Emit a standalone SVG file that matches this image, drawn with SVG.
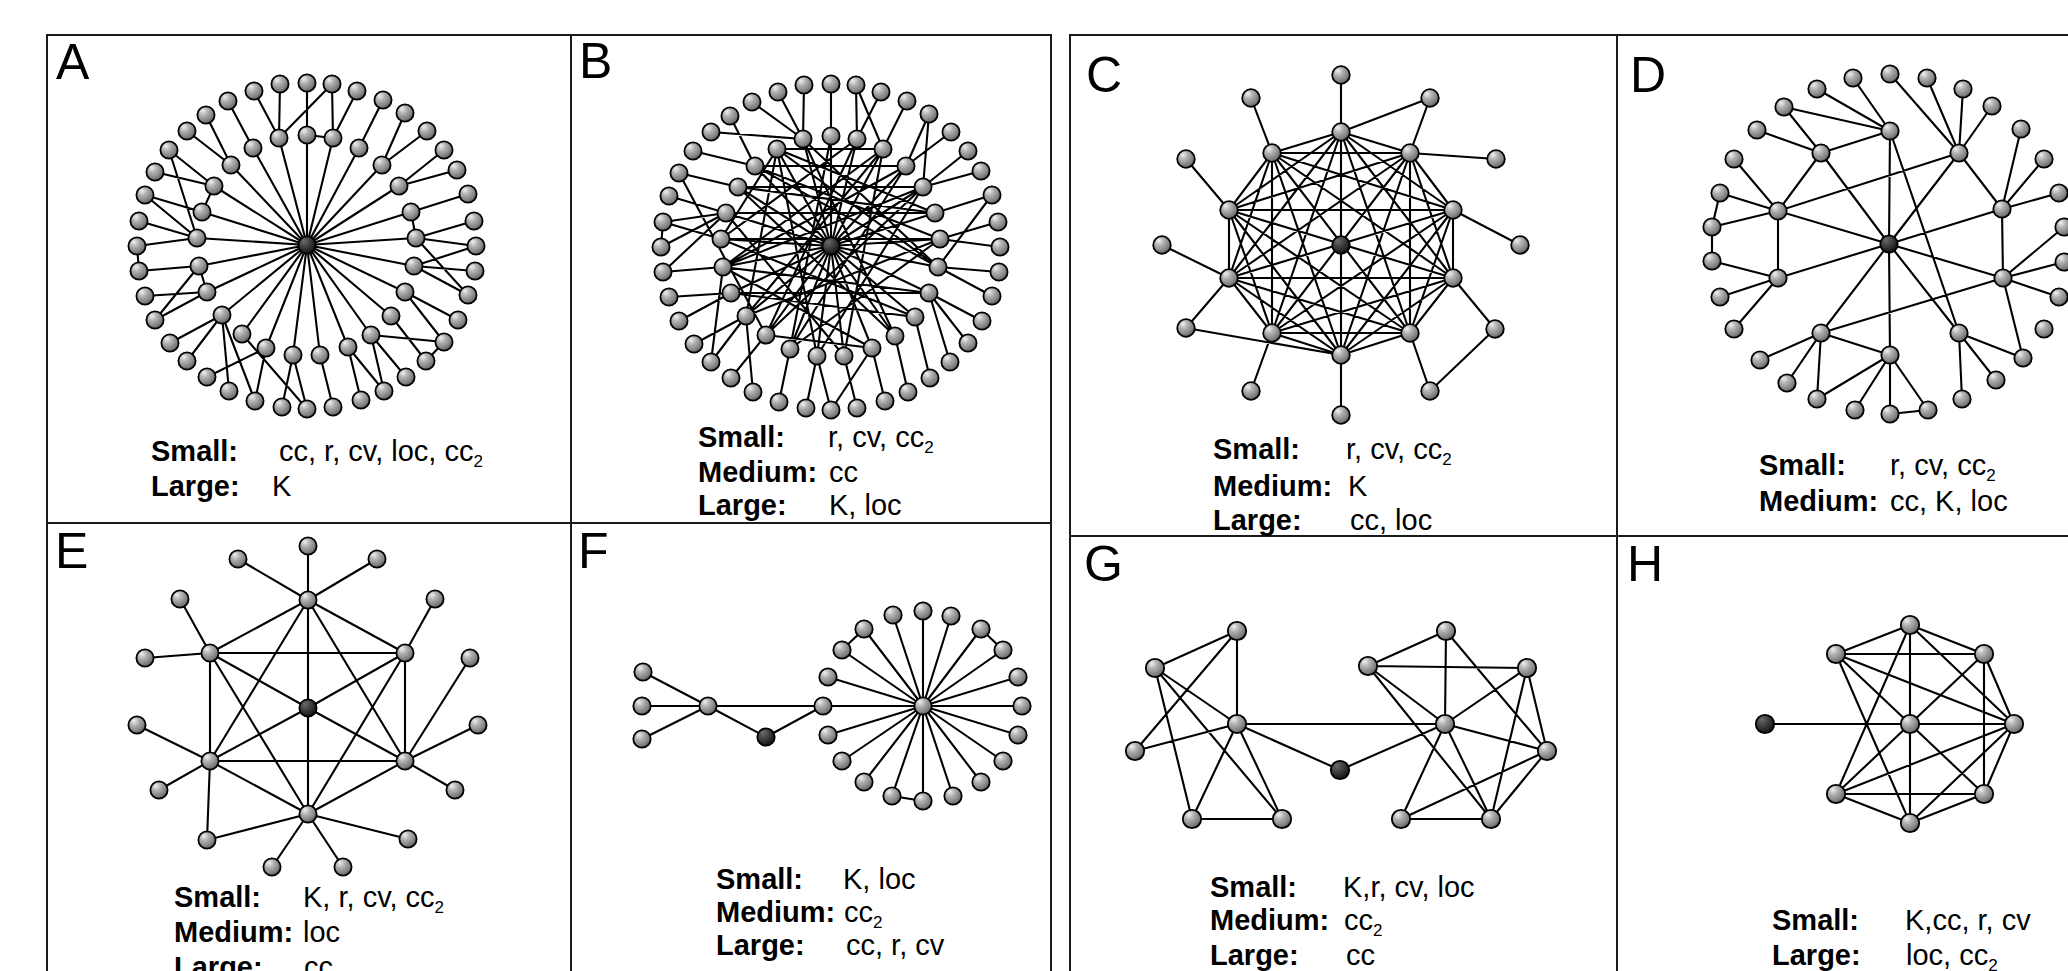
<svg xmlns="http://www.w3.org/2000/svg" width="2068" height="971" viewBox="0 0 2068 971">
<defs>
<radialGradient id="gr" cx="0.36" cy="0.3" r="0.75" fx="0.32" fy="0.26">
<stop offset="0" stop-color="#f0f0f0"/><stop offset="0.35" stop-color="#b2b2b2"/><stop offset="0.8" stop-color="#7c7c7c"/><stop offset="1" stop-color="#4e4e4e"/>
</radialGradient>
<radialGradient id="gd" cx="0.36" cy="0.3" r="0.75" fx="0.32" fy="0.26">
<stop offset="0" stop-color="#6a6a6a"/><stop offset="1" stop-color="#0e0e0e"/>
</radialGradient>
<style>
.e{fill:none;stroke:#000;stroke-width:2.1;stroke-linecap:round}
.bx{fill:none;stroke:#1a1a1a;stroke-width:2}
.nd circle{fill:url(#gr);stroke:#000;stroke-width:1.8}
.nd .dk circle{fill:url(#gd)}
.pl{font-family:"Liberation Sans",Arial,sans-serif;font-size:50px;fill:#000}
.lb{font-family:"Liberation Sans",Arial,sans-serif;font-size:29px;font-weight:bold;fill:#000}
.v{font-family:"Liberation Sans",Arial,sans-serif;font-size:29px;fill:#000}
.sub{font-size:17px}
</style>
</defs>
<rect width="2068" height="971" fill="#fff"/>
<g id="frames" class="bx">
<path d="M47 980V35H1051V980M571 35V980M47 523H1051"/>
<path d="M1070 980V35H2075M1617 35V980M1070 536H2075"/>
</g>
<g id="connectors" class="e">
<path id="edges-A" d="M307 245L307 135M307 245L279 138M307 245L333 138M307 245L253 148M307 245L359 148M307 245L231 165M307 245L382 165M307 245L214 186M307 245L399 186M307 245L202 212M307 245L411 212M307 245L197 238M307 245L416 238M307 245L199 266M307 245L414 266M307 245L207 292M307 245L405 292M307 245L222 315M307 245L391 316M307 245L242 334M307 245L371 335M307 245L266 348M307 245L348 347M307 245L293 355M307 245L320 355
M307 83L307 135M332 84L333 138M332 84L279 138M280 84L279 138M254 91L279 138M357 91L333 138M307 135L333 138M228 101L253 148M383 100L359 148M206 115L231 165M187 131L231 165M405 113L382 165M427 131L382 165M169 150L214 186M169 150L197 238M155 172L214 186M444 150L399 186M457 170L399 186M145 195L202 212M145 195L197 238M214 186L202 212M139 221L197 238M137 246L197 238M137 246L139 271M139 271L199 266M468 194L411 212M474 221L416 238M411 212L416 238M476 246L416 238M476 246L414 266M475 271L414 266M416 238L468 295M414 266L468 295M199 266L207 292M199 266L155 320M145 296L207 292M155 320L207 292M170 343L222 315M187 361L222 315M207 377L266 348M229 391L222 315M255 401L222 315M255 401L266 348M242 334L307 409M293 355L282 407M293 355L307 409M320 355L333 407M348 347L361 400M348 347L384 391M371 335L384 391M371 335L444 342M371 335L406 377M391 316L426 361M405 292L458 320M405 292L444 342M444 342L426 361"/>
<path id="edges-B" d="M831 246L831 136M831 246L803 139M831 246L857 139M831 246L777 149M831 246L883 149M831 246L755 166M831 246L906 166M831 246L738 187M831 246L923 187M831 246L726 213M831 246L935 213M831 246L721 239M831 246L940 239M831 246L723 267M831 246L938 267M831 246L731 293M831 246L929 293M831 246L746 316M831 246L915 317M831 246L766 335M831 246L895 336M831 246L790 349M831 246L872 348M831 246L817 356M831 246L844 356
M831 84L831 136M856 85L857 139M856 85L883 149M804 85L803 139M881 92L857 139M778 92L803 139M752 102L803 139M907 101L883 149M929 114L906 166M929 114L923 187M951 132L906 166M730 116L755 166M711 132L803 139M693 151L755 166M679 173L738 187M679 173L766 335M968 151L923 187M981 171L923 187M669 196L726 213M992 195L935 213M992 195L938 267M663 222L726 213M663 222L721 239M663 222L661 247M661 247L726 213M663 272L723 267M663 272L726 213M998 222L940 239M1000 247L940 239M999 272L938 267M669 297L731 293M679 321L731 293M694 344L746 316M711 362L723 267M711 362L746 316M731 378L766 335M753 392L746 316M779 402L790 349M806 408L817 356M831 410L817 356M831 410L872 348M857 408L844 356M885 401L872 348M908 392L895 336M930 378L915 317M950 362L929 293M968 343L929 293M982 321L929 293M992 296L938 267
M731 293L929 293M777 149L746 316M777 149L817 356M777 149L721 239M777 149L935 213M777 149L938 267M777 149L883 149M755 166L940 239M755 166L906 166M738 187L923 187M738 187L895 336M726 213L935 213M726 213L844 356M721 239L940 239M721 239L915 317M723 267L923 187M723 267L872 348M766 335L872 348M766 335L923 187M790 349L906 166M790 349L940 239M803 139L938 267M803 139L895 336M857 139L721 239M857 139L766 335M883 149L723 267M883 149L746 316M906 166L723 267M831 136L790 349M923 187L817 356M935 213L738 187M940 239L746 316M938 267L755 166M929 293L723 267M915 317L731 293M844 356L883 149"/>
<path id="edges-C" d="M1341 132L1410 153M1341 132L1453 210M1341 132L1453 278M1341 132L1410 333M1341 132L1341 355M1341 132L1272 333M1341 132L1229 278M1341 132L1229 210M1341 132L1272 153M1410 153L1453 210M1410 153L1453 278M1410 153L1410 333M1410 153L1341 355M1410 153L1272 333M1410 153L1229 278M1410 153L1229 210M1410 153L1272 153M1453 210L1453 278M1453 210L1410 333M1453 210L1341 355M1453 210L1272 333M1453 210L1229 278M1453 210L1229 210M1453 210L1272 153M1453 278L1410 333M1453 278L1341 355M1453 278L1272 333M1453 278L1229 278M1453 278L1229 210M1453 278L1272 153M1410 333L1341 355M1410 333L1272 333M1410 333L1229 278M1410 333L1229 210M1410 333L1272 153M1341 355L1272 333M1341 355L1229 278M1341 355L1229 210M1341 355L1272 153M1272 333L1229 278M1272 333L1229 210M1272 333L1272 153M1229 278L1229 210M1229 278L1272 153M1229 210L1272 153
M1341 75L1341 132M1341 132L1430 98M1251 98L1272 153M1430 98L1410 153M1186 159L1229 210M1496 159L1410 153M1520 245L1453 210M1162 245L1229 278M1186 328L1229 278M1186 328L1341 355M1495 329L1453 278M1495 329L1430 391M1251 391L1272 333M1430 391L1410 333M1341 415L1341 355"/>
<path id="edges-D" d="M1889 244L1890 131M1889 244L1821 153M1889 244L1959 153M1889 244L1778 211M1889 244L2002 209M1889 244L1778 278M1889 244L2003 278M1889 244L1821 333M1889 244L1959 333M1889 244L1890 355
M1890 131L1959 333M1890 131L1853 78M1890 131L1817 89M1890 131L1784 107M1890 131L1821 153M1821 153L1784 107M1821 153L1757 130M1821 153L1778 211M1959 153L1890 74M1959 153L1927 78M1959 153L1963 89M1959 153L1992 106M1959 153L1778 211M1959 153L2002 209M2002 209L2021 129M2002 209L2044 159M2002 209L2059 193M2002 209L2003 278M2003 278L2064 227M2003 278L2064 262M2003 278L2059 297M2003 278L2023 358M2003 278L1821 333M1778 211L1734 159M1778 211L1720 193M1778 211L1712 227M1778 211L1778 278M1720 193L1712 227M1712 227L1712 261M1778 278L1712 261M1778 278L1720 297M1778 278L1734 329M1821 333L1760 360M1821 333L1787 383M1821 333L1817 399M1821 333L1890 355M1890 355L1817 399M1890 355L1855 410M1890 355L1890 414M1890 355L1928 410M1890 414L1928 410M1959 333L2023 358M1959 333L1996 380M1959 333L1962 399"/>
<path id="edges-E" d="M308 708L308 600M308 708L210 653M308 708L405 653M308 708L210 761M308 708L405 761M308 708L308 814M308 600L210 653M308 600L405 653M308 600L210 761M308 600L405 761M210 653L405 653M210 653L210 761M210 653L308 814M405 653L405 761M405 653L308 814M210 761L405 761M210 761L308 814M405 761L308 814
M308 546L308 600M238 559L308 600M377 559L308 600M180 599L210 653M435 599L405 653M145 658L210 653M470 658L405 761M137 725L210 761M478 725L405 761M159 790L210 761M455 790L405 761M207 840L210 761M207 840L308 814M408 839L308 814M272 867L308 814M343 867L308 814"/>
<path id="edges-F" d="M643 672L708 706M642 706L708 706M642 739L708 706M708 706L823 706M708 706L766 737M766 737L823 706M823 706L923 706
M923 706L923 611M923 706L893 615M923 706L951 616M923 706L864 629M923 706L981 629M923 706L842 650M923 706L1003 650M923 706L828 677M923 706L1018 677M923 706L1022 706M923 706L828 735M923 706L1018 735M923 706L842 761M923 706L1003 761M923 706L864 782M923 706L981 782M923 706L892 796M923 706L923 801M923 706L953 796M864 629L842 650M981 629L1003 650M892 796L923 801"/>
<path id="edges-G" d="M1237 631L1155 668M1237 631L1237 724M1237 631L1135 751M1155 668L1237 724M1155 668L1192 819M1155 668L1282 819M1237 724L1135 751M1237 724L1192 819M1237 724L1282 819M1192 819L1282 819M1237 724L1445 724M1237 724L1340 770M1340 770L1445 724
M1446 631L1368 666M1446 631L1445 724M1446 631L1547 751M1368 666L1527 668M1368 666L1445 724M1368 666L1491 819M1527 668L1445 724M1527 668L1547 751M1527 668L1491 819M1445 724L1547 751M1445 724L1401 819M1445 724L1491 819M1547 751L1401 819M1547 751L1491 819M1401 819L1491 819"/>
<path id="edges-H" d="M1765 724L1910 724M1910 625L1836 654M1910 625L1984 654M1910 625L1910 724M1910 625L1836 794M1910 625L2014 724M1910 823L1836 794M1910 823L1984 794M1910 823L1910 724M1910 823L1836 654M1910 823L2014 724M1836 654L1984 654M1836 654L1910 724M1836 654L2014 724M1836 654L1984 794M1984 654L2014 724M1984 654L1984 794M1984 654L1910 724M1984 654L1836 794M2014 724L1910 724M2014 724L1984 794M2014 724L1836 794M1836 794L1984 794M1836 794L1910 724M1984 794L1910 724"/>
</g>
<g id="nodes-A" class="nd">
<g id="A-c" class="dk"><circle cx="307" cy="245" r="8.6"/></g>
<g id="A-o1"><circle cx="307" cy="83" r="8.6"/></g><g id="A-o2"><circle cx="332" cy="84" r="8.6"/></g><g id="A-o3"><circle cx="280" cy="84" r="8.6"/></g><g id="A-o4"><circle cx="357" cy="91" r="8.6"/></g><g id="A-o5"><circle cx="254" cy="91" r="8.6"/></g><g id="A-o6"><circle cx="383" cy="100" r="8.6"/></g><g id="A-o7"><circle cx="228" cy="101" r="8.6"/></g><g id="A-o8"><circle cx="405" cy="113" r="8.6"/></g><g id="A-o9"><circle cx="206" cy="115" r="8.6"/></g><g id="A-o10"><circle cx="427" cy="131" r="8.6"/></g>
<g id="A-o11"><circle cx="187" cy="131" r="8.6"/></g><g id="A-o12"><circle cx="444" cy="150" r="8.6"/></g><g id="A-o13"><circle cx="169" cy="150" r="8.6"/></g><g id="A-o14"><circle cx="457" cy="170" r="8.6"/></g><g id="A-o15"><circle cx="155" cy="172" r="8.6"/></g><g id="A-o16"><circle cx="468" cy="194" r="8.6"/></g><g id="A-o17"><circle cx="145" cy="195" r="8.6"/></g><g id="A-o18"><circle cx="474" cy="221" r="8.6"/></g><g id="A-o19"><circle cx="139" cy="221" r="8.6"/></g><g id="A-o20"><circle cx="476" cy="246" r="8.6"/></g>
<g id="A-o21"><circle cx="137" cy="246" r="8.6"/></g><g id="A-o22"><circle cx="475" cy="271" r="8.6"/></g><g id="A-o23"><circle cx="139" cy="271" r="8.6"/></g><g id="A-o24"><circle cx="145" cy="296" r="8.6"/></g><g id="A-o25"><circle cx="468" cy="295" r="8.6"/></g><g id="A-o26"><circle cx="155" cy="320" r="8.6"/></g><g id="A-o27"><circle cx="458" cy="320" r="8.6"/></g><g id="A-o28"><circle cx="170" cy="343" r="8.6"/></g><g id="A-o29"><circle cx="444" cy="342" r="8.6"/></g><g id="A-o30"><circle cx="187" cy="361" r="8.6"/></g>
<g id="A-o31"><circle cx="426" cy="361" r="8.6"/></g><g id="A-o32"><circle cx="207" cy="377" r="8.6"/></g><g id="A-o33"><circle cx="406" cy="377" r="8.6"/></g><g id="A-o34"><circle cx="229" cy="391" r="8.6"/></g><g id="A-o35"><circle cx="384" cy="391" r="8.6"/></g><g id="A-o36"><circle cx="255" cy="401" r="8.6"/></g><g id="A-o37"><circle cx="361" cy="400" r="8.6"/></g><g id="A-o38"><circle cx="282" cy="407" r="8.6"/></g><g id="A-o39"><circle cx="307" cy="409" r="8.6"/></g><g id="A-o40"><circle cx="333" cy="407" r="8.6"/></g>
<g id="A-i1"><circle cx="307" cy="135" r="8.6"/></g><g id="A-i2"><circle cx="279" cy="138" r="8.6"/></g><g id="A-i3"><circle cx="333" cy="138" r="8.6"/></g><g id="A-i4"><circle cx="253" cy="148" r="8.6"/></g><g id="A-i5"><circle cx="359" cy="148" r="8.6"/></g><g id="A-i6"><circle cx="231" cy="165" r="8.6"/></g><g id="A-i7"><circle cx="382" cy="165" r="8.6"/></g><g id="A-i8"><circle cx="214" cy="186" r="8.6"/></g><g id="A-i9"><circle cx="399" cy="186" r="8.6"/></g><g id="A-i10"><circle cx="202" cy="212" r="8.6"/></g>
<g id="A-i11"><circle cx="411" cy="212" r="8.6"/></g><g id="A-i12"><circle cx="197" cy="238" r="8.6"/></g><g id="A-i13"><circle cx="416" cy="238" r="8.6"/></g><g id="A-i14"><circle cx="199" cy="266" r="8.6"/></g><g id="A-i15"><circle cx="414" cy="266" r="8.6"/></g><g id="A-i16"><circle cx="207" cy="292" r="8.6"/></g><g id="A-i17"><circle cx="405" cy="292" r="8.6"/></g><g id="A-i18"><circle cx="222" cy="315" r="8.6"/></g><g id="A-i19"><circle cx="391" cy="316" r="8.6"/></g><g id="A-i20"><circle cx="242" cy="334" r="8.6"/></g>
<g id="A-i21"><circle cx="371" cy="335" r="8.6"/></g><g id="A-i22"><circle cx="266" cy="348" r="8.6"/></g><g id="A-i23"><circle cx="348" cy="347" r="8.6"/></g><g id="A-i24"><circle cx="293" cy="355" r="8.6"/></g><g id="A-i25"><circle cx="320" cy="355" r="8.6"/></g>
</g>
<g id="nodes-B" class="nd">
<g id="B-c" class="dk"><circle cx="831" cy="246" r="8.6"/></g>
<g id="B-o1"><circle cx="831" cy="84" r="8.6"/></g><g id="B-o2"><circle cx="856" cy="85" r="8.6"/></g><g id="B-o3"><circle cx="804" cy="85" r="8.6"/></g><g id="B-o4"><circle cx="881" cy="92" r="8.6"/></g><g id="B-o5"><circle cx="778" cy="92" r="8.6"/></g><g id="B-o6"><circle cx="907" cy="101" r="8.6"/></g><g id="B-o7"><circle cx="752" cy="102" r="8.6"/></g><g id="B-o8"><circle cx="929" cy="114" r="8.6"/></g><g id="B-o9"><circle cx="730" cy="116" r="8.6"/></g><g id="B-o10"><circle cx="951" cy="132" r="8.6"/></g>
<g id="B-o11"><circle cx="711" cy="132" r="8.6"/></g><g id="B-o12"><circle cx="968" cy="151" r="8.6"/></g><g id="B-o13"><circle cx="693" cy="151" r="8.6"/></g><g id="B-o14"><circle cx="981" cy="171" r="8.6"/></g><g id="B-o15"><circle cx="679" cy="173" r="8.6"/></g><g id="B-o16"><circle cx="992" cy="195" r="8.6"/></g><g id="B-o17"><circle cx="669" cy="196" r="8.6"/></g><g id="B-o18"><circle cx="998" cy="222" r="8.6"/></g><g id="B-o19"><circle cx="663" cy="222" r="8.6"/></g><g id="B-o20"><circle cx="1000" cy="247" r="8.6"/></g>
<g id="B-o21"><circle cx="661" cy="247" r="8.6"/></g><g id="B-o22"><circle cx="999" cy="272" r="8.6"/></g><g id="B-o23"><circle cx="663" cy="272" r="8.6"/></g><g id="B-o24"><circle cx="669" cy="297" r="8.6"/></g><g id="B-o25"><circle cx="992" cy="296" r="8.6"/></g><g id="B-o26"><circle cx="679" cy="321" r="8.6"/></g><g id="B-o27"><circle cx="982" cy="321" r="8.6"/></g><g id="B-o28"><circle cx="694" cy="344" r="8.6"/></g><g id="B-o29"><circle cx="968" cy="343" r="8.6"/></g><g id="B-o30"><circle cx="711" cy="362" r="8.6"/></g>
<g id="B-o31"><circle cx="950" cy="362" r="8.6"/></g><g id="B-o32"><circle cx="731" cy="378" r="8.6"/></g><g id="B-o33"><circle cx="930" cy="378" r="8.6"/></g><g id="B-o34"><circle cx="753" cy="392" r="8.6"/></g><g id="B-o35"><circle cx="908" cy="392" r="8.6"/></g><g id="B-o36"><circle cx="779" cy="402" r="8.6"/></g><g id="B-o37"><circle cx="885" cy="401" r="8.6"/></g><g id="B-o38"><circle cx="806" cy="408" r="8.6"/></g><g id="B-o39"><circle cx="831" cy="410" r="8.6"/></g><g id="B-o40"><circle cx="857" cy="408" r="8.6"/></g>
<g id="B-i1"><circle cx="831" cy="136" r="8.6"/></g><g id="B-i2"><circle cx="803" cy="139" r="8.6"/></g><g id="B-i3"><circle cx="857" cy="139" r="8.6"/></g><g id="B-i4"><circle cx="777" cy="149" r="8.6"/></g><g id="B-i5"><circle cx="883" cy="149" r="8.6"/></g><g id="B-i6"><circle cx="755" cy="166" r="8.6"/></g><g id="B-i7"><circle cx="906" cy="166" r="8.6"/></g><g id="B-i8"><circle cx="738" cy="187" r="8.6"/></g><g id="B-i9"><circle cx="923" cy="187" r="8.6"/></g><g id="B-i10"><circle cx="726" cy="213" r="8.6"/></g>
<g id="B-i11"><circle cx="935" cy="213" r="8.6"/></g><g id="B-i12"><circle cx="721" cy="239" r="8.6"/></g><g id="B-i13"><circle cx="940" cy="239" r="8.6"/></g><g id="B-i14"><circle cx="723" cy="267" r="8.6"/></g><g id="B-i15"><circle cx="938" cy="267" r="8.6"/></g><g id="B-i16"><circle cx="731" cy="293" r="8.6"/></g><g id="B-i17"><circle cx="929" cy="293" r="8.6"/></g><g id="B-i18"><circle cx="746" cy="316" r="8.6"/></g><g id="B-i19"><circle cx="915" cy="317" r="8.6"/></g><g id="B-i20"><circle cx="766" cy="335" r="8.6"/></g>
<g id="B-i21"><circle cx="895" cy="336" r="8.6"/></g><g id="B-i22"><circle cx="790" cy="349" r="8.6"/></g><g id="B-i23"><circle cx="872" cy="348" r="8.6"/></g><g id="B-i24"><circle cx="817" cy="356" r="8.6"/></g><g id="B-i25"><circle cx="844" cy="356" r="8.6"/></g>
</g>
<g id="nodes-C" class="nd">
<g id="C-c" class="dk"><circle cx="1341" cy="245" r="8.8"/></g>
<g id="C-r0"><circle cx="1341" cy="132" r="8.8"/></g><g id="C-r1"><circle cx="1410" cy="153" r="8.8"/></g><g id="C-r2"><circle cx="1453" cy="210" r="8.8"/></g><g id="C-r3"><circle cx="1453" cy="278" r="8.8"/></g><g id="C-r4"><circle cx="1410" cy="333" r="8.8"/></g><g id="C-r5"><circle cx="1341" cy="355" r="8.8"/></g><g id="C-r6"><circle cx="1272" cy="333" r="8.8"/></g><g id="C-r7"><circle cx="1229" cy="278" r="8.8"/></g><g id="C-r8"><circle cx="1229" cy="210" r="8.8"/></g><g id="C-r9"><circle cx="1272" cy="153" r="8.8"/></g>
<g id="C-l1"><circle cx="1341" cy="75" r="8.8"/></g><g id="C-l2"><circle cx="1251" cy="98" r="8.8"/></g><g id="C-l3"><circle cx="1430" cy="98" r="8.8"/></g><g id="C-l4"><circle cx="1186" cy="159" r="8.8"/></g><g id="C-l5"><circle cx="1496" cy="159" r="8.8"/></g><g id="C-l6"><circle cx="1162" cy="245" r="8.8"/></g><g id="C-l7"><circle cx="1520" cy="245" r="8.8"/></g><g id="C-l8"><circle cx="1186" cy="328" r="8.8"/></g><g id="C-l9"><circle cx="1495" cy="329" r="8.8"/></g><g id="C-l10"><circle cx="1251" cy="391" r="8.8"/></g><g id="C-l11"><circle cx="1430" cy="391" r="8.8"/></g><g id="C-l12"><circle cx="1341" cy="415" r="8.8"/></g>
</g>
<g id="nodes-D" class="nd">
<g id="D-c" class="dk"><circle cx="1889" cy="244" r="8.7"/></g>
<g id="D-h1"><circle cx="1890" cy="131" r="8.7"/></g><g id="D-h2"><circle cx="1821" cy="153" r="8.7"/></g><g id="D-h3"><circle cx="1959" cy="153" r="8.7"/></g><g id="D-h4"><circle cx="1778" cy="211" r="8.7"/></g><g id="D-h5"><circle cx="2002" cy="209" r="8.7"/></g><g id="D-h6"><circle cx="1778" cy="278" r="8.7"/></g><g id="D-h7"><circle cx="2003" cy="278" r="8.7"/></g><g id="D-h8"><circle cx="1821" cy="333" r="8.7"/></g><g id="D-h9"><circle cx="1959" cy="333" r="8.7"/></g><g id="D-h10"><circle cx="1890" cy="355" r="8.7"/></g>
<g id="D-d1"><circle cx="1853" cy="78" r="8.7"/></g><g id="D-d2"><circle cx="1890" cy="74" r="8.7"/></g><g id="D-d3"><circle cx="1927" cy="78" r="8.7"/></g><g id="D-d4"><circle cx="1817" cy="89" r="8.7"/></g><g id="D-d5"><circle cx="1963" cy="89" r="8.7"/></g><g id="D-d6"><circle cx="1784" cy="107" r="8.7"/></g><g id="D-d7"><circle cx="1992" cy="106" r="8.7"/></g><g id="D-d8"><circle cx="1757" cy="130" r="8.7"/></g><g id="D-d9"><circle cx="2021" cy="129" r="8.7"/></g><g id="D-d10"><circle cx="1734" cy="159" r="8.7"/></g>
<g id="D-d11"><circle cx="2044" cy="159" r="8.7"/></g><g id="D-d12"><circle cx="1720" cy="193" r="8.7"/></g><g id="D-d13"><circle cx="2059" cy="193" r="8.7"/></g><g id="D-d14"><circle cx="1712" cy="227" r="8.7"/></g><g id="D-d15"><circle cx="2064" cy="227" r="8.7"/></g><g id="D-d16"><circle cx="1712" cy="261" r="8.7"/></g><g id="D-d17"><circle cx="2064" cy="262" r="8.7"/></g><g id="D-d18"><circle cx="1720" cy="297" r="8.7"/></g><g id="D-d19"><circle cx="2059" cy="297" r="8.7"/></g><g id="D-d20"><circle cx="1734" cy="329" r="8.7"/></g>
<g id="D-d21"><circle cx="2044" cy="329" r="8.7"/></g><g id="D-d22"><circle cx="1760" cy="360" r="8.7"/></g><g id="D-d23"><circle cx="2023" cy="358" r="8.7"/></g><g id="D-d24"><circle cx="1787" cy="383" r="8.7"/></g><g id="D-d25"><circle cx="1996" cy="380" r="8.7"/></g><g id="D-d26"><circle cx="1817" cy="399" r="8.7"/></g><g id="D-d27"><circle cx="1962" cy="399" r="8.7"/></g><g id="D-d28"><circle cx="1855" cy="410" r="8.7"/></g><g id="D-d29"><circle cx="1890" cy="414" r="8.7"/></g><g id="D-d30"><circle cx="1928" cy="410" r="8.7"/></g>
</g>
<g id="nodes-E" class="nd">
<g id="E-c" class="dk"><circle cx="308" cy="708" r="8.6"/></g>
<g id="E-h1"><circle cx="308" cy="600" r="8.6"/></g><g id="E-h2"><circle cx="210" cy="653" r="8.6"/></g><g id="E-h3"><circle cx="405" cy="653" r="8.6"/></g><g id="E-h4"><circle cx="210" cy="761" r="8.6"/></g><g id="E-h5"><circle cx="405" cy="761" r="8.6"/></g><g id="E-h6"><circle cx="308" cy="814" r="8.6"/></g>
<g id="E-l1"><circle cx="308" cy="546" r="8.6"/></g><g id="E-l2"><circle cx="238" cy="559" r="8.6"/></g><g id="E-l3"><circle cx="377" cy="559" r="8.6"/></g><g id="E-l4"><circle cx="180" cy="599" r="8.6"/></g><g id="E-l5"><circle cx="435" cy="599" r="8.6"/></g><g id="E-l6"><circle cx="145" cy="658" r="8.6"/></g><g id="E-l7"><circle cx="470" cy="658" r="8.6"/></g><g id="E-l8"><circle cx="137" cy="725" r="8.6"/></g><g id="E-l9"><circle cx="478" cy="725" r="8.6"/></g><g id="E-l10"><circle cx="159" cy="790" r="8.6"/></g><g id="E-l11"><circle cx="455" cy="790" r="8.6"/></g><g id="E-l12"><circle cx="207" cy="840" r="8.6"/></g><g id="E-l13"><circle cx="408" cy="839" r="8.6"/></g><g id="E-l14"><circle cx="272" cy="867" r="8.6"/></g><g id="E-l15"><circle cx="343" cy="867" r="8.6"/></g>
</g>
<g id="nodes-F" class="nd">
<g id="F-hub"><circle cx="923" cy="706" r="8.7"/></g>
<g id="F-a1"><circle cx="643" cy="672" r="8.7"/></g><g id="F-a2"><circle cx="642" cy="706" r="8.7"/></g><g id="F-a3"><circle cx="642" cy="739" r="8.7"/></g><g id="F-a"><circle cx="708" cy="706" r="8.7"/></g><g id="F-dark" class="dk"><circle cx="766" cy="737" r="8.7"/></g><g id="F-b"><circle cx="823" cy="706" r="8.7"/></g>
<g id="F-s1"><circle cx="923" cy="611" r="8.7"/></g><g id="F-s2"><circle cx="893" cy="615" r="8.7"/></g><g id="F-s3"><circle cx="951" cy="616" r="8.7"/></g><g id="F-s4"><circle cx="864" cy="629" r="8.7"/></g><g id="F-s5"><circle cx="981" cy="629" r="8.7"/></g><g id="F-s6"><circle cx="842" cy="650" r="8.7"/></g><g id="F-s7"><circle cx="1003" cy="650" r="8.7"/></g><g id="F-s8"><circle cx="828" cy="677" r="8.7"/></g><g id="F-s9"><circle cx="1018" cy="677" r="8.7"/></g><g id="F-s10"><circle cx="1022" cy="706" r="8.7"/></g>
<g id="F-s11"><circle cx="828" cy="735" r="8.7"/></g><g id="F-s12"><circle cx="1018" cy="735" r="8.7"/></g><g id="F-s13"><circle cx="842" cy="761" r="8.7"/></g><g id="F-s14"><circle cx="1003" cy="761" r="8.7"/></g><g id="F-s15"><circle cx="864" cy="782" r="8.7"/></g><g id="F-s16"><circle cx="981" cy="782" r="8.7"/></g><g id="F-s17"><circle cx="892" cy="796" r="8.7"/></g><g id="F-s18"><circle cx="923" cy="801" r="8.7"/></g><g id="F-s19"><circle cx="953" cy="796" r="8.7"/></g>
</g>
<g id="nodes-G" class="nd">
<g id="G-1"><circle cx="1237" cy="631" r="9.2"/></g><g id="G-2"><circle cx="1155" cy="668" r="9.2"/></g><g id="G-3"><circle cx="1237" cy="724" r="9.2"/></g><g id="G-4"><circle cx="1135" cy="751" r="9.2"/></g><g id="G-5"><circle cx="1192" cy="819" r="9.2"/></g><g id="G-6"><circle cx="1282" cy="819" r="9.2"/></g>
<g id="G-dark" class="dk"><circle cx="1340" cy="770" r="9.2"/></g>
<g id="G-7"><circle cx="1446" cy="631" r="9.2"/></g><g id="G-8"><circle cx="1368" cy="666" r="9.2"/></g><g id="G-9"><circle cx="1527" cy="668" r="9.2"/></g><g id="G-10"><circle cx="1445" cy="724" r="9.2"/></g><g id="G-11"><circle cx="1547" cy="751" r="9.2"/></g><g id="G-12"><circle cx="1401" cy="819" r="9.2"/></g><g id="G-13"><circle cx="1491" cy="819" r="9.2"/></g>
</g>
<g id="nodes-H" class="nd">
<g id="H-dark" class="dk"><circle cx="1765" cy="724" r="9.2"/></g>
<g id="H-c"><circle cx="1910" cy="724" r="9.2"/></g><g id="H-t"><circle cx="1910" cy="625" r="9.2"/></g><g id="H-tl"><circle cx="1836" cy="654" r="9.2"/></g><g id="H-tr"><circle cx="1984" cy="654" r="9.2"/></g><g id="H-r"><circle cx="2014" cy="724" r="9.2"/></g><g id="H-bl"><circle cx="1836" cy="794" r="9.2"/></g><g id="H-br"><circle cx="1984" cy="794" r="9.2"/></g><g id="H-b"><circle cx="1910" cy="823" r="9.2"/></g>
</g>
<g id="labels">
<text class="pl" x="56" y="79">A</text>
<text class="pl" x="579" y="78">B</text>
<text class="pl" x="1086" y="92">C</text>
<text class="pl" x="1630" y="92">D</text>
<text class="pl" x="55" y="568">E</text>
<text class="pl" x="578" y="568">F</text>
<text class="pl" x="1084" y="581">G</text>
<text class="pl" x="1627" y="581">H</text>

<text class="lb" x="151" y="461">Small:</text><text class="v" x="279" y="461">cc, r, cv, loc, cc<tspan class="sub" dy="6">2</tspan></text>
<text class="lb" x="151" y="496">Large:</text><text class="v" x="272" y="496">K</text>

<text class="lb" x="698" y="447">Small:</text><text class="v" x="828" y="447">r, cv, cc<tspan class="sub" dy="6">2</tspan></text>
<text class="lb" x="698" y="482">Medium:</text><text class="v" x="829" y="482">cc</text>
<text class="lb" x="698" y="515">Large:</text><text class="v" x="829" y="515">K, loc</text>

<text class="lb" x="1213" y="459">Small:</text><text class="v" x="1346" y="459">r, cv, cc<tspan class="sub" dy="6">2</tspan></text>
<text class="lb" x="1213" y="496">Medium:</text><text class="v" x="1348" y="496">K</text>
<text class="lb" x="1213" y="530">Large:</text><text class="v" x="1350" y="530">cc, loc</text>

<text class="lb" x="1759" y="475">Small:</text><text class="v" x="1890" y="475">r, cv, cc<tspan class="sub" dy="6">2</tspan></text>
<text class="lb" x="1759" y="511">Medium:</text><text class="v" x="1890" y="511">cc, K, loc</text>

<text class="lb" x="174" y="907">Small:</text><text class="v" x="303" y="907">K, r, cv, cc<tspan class="sub" dy="6">2</tspan></text>
<text class="lb" x="174" y="942">Medium:</text><text class="v" x="303" y="942">loc</text>
<text class="lb" x="174" y="977">Large:</text><text class="v" x="304" y="977">cc</text>

<text class="lb" x="716" y="889">Small:</text><text class="v" x="843" y="889">K, loc</text>
<text class="lb" x="716" y="922">Medium:</text><text class="v" x="844" y="922">cc<tspan class="sub" dy="6">2</tspan></text>
<text class="lb" x="716" y="955">Large:</text><text class="v" x="846" y="955">cc, r, cv</text>

<text class="lb" x="1210" y="897">Small:</text><text class="v" x="1343" y="897">K,r, cv, loc</text>
<text class="lb" x="1210" y="930">Medium:</text><text class="v" x="1344" y="930">cc<tspan class="sub" dy="6">2</tspan></text>
<text class="lb" x="1210" y="965">Large:</text><text class="v" x="1346" y="965">cc</text>

<text class="lb" x="1772" y="930">Small:</text><text class="v" x="1905" y="930">K,cc, r, cv</text>
<text class="lb" x="1772" y="965">Large:</text><text class="v" x="1906" y="965">loc, cc<tspan class="sub" dy="6">2</tspan></text>
</g>
</svg>
